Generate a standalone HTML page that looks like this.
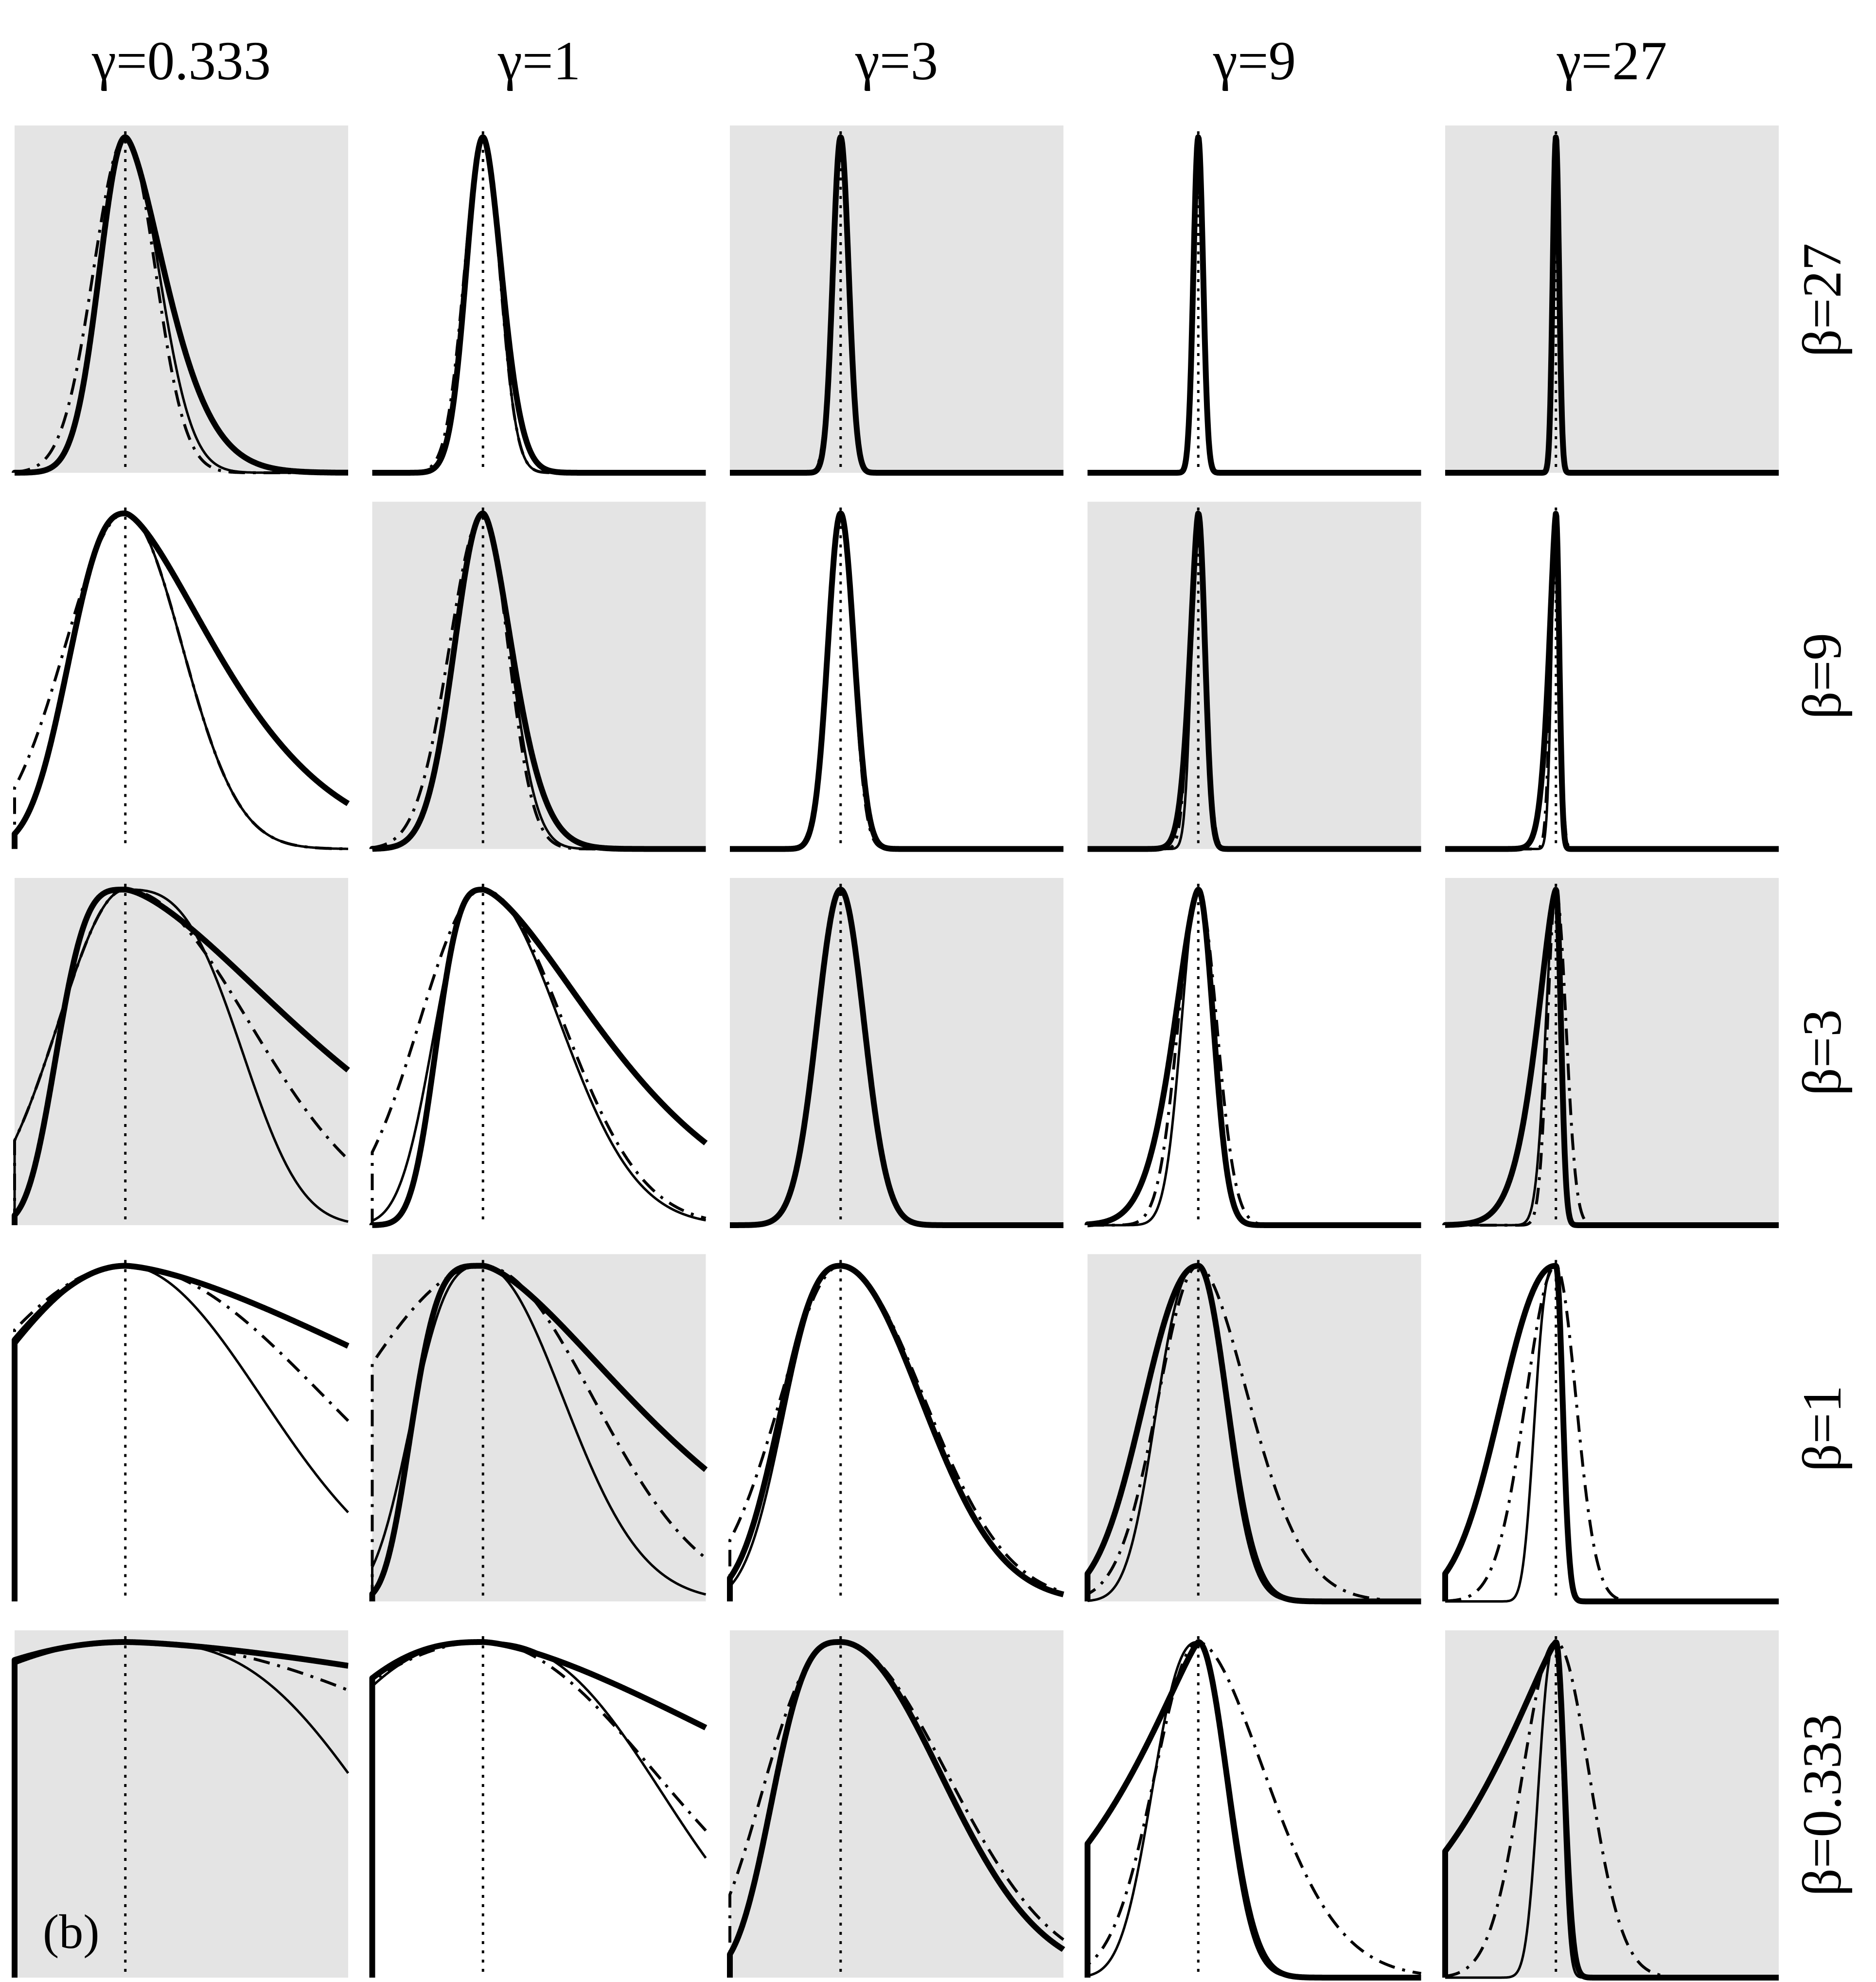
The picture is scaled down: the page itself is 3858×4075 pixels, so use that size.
<!DOCTYPE html>
<html><head><meta charset="utf-8"><style>
html,body{margin:0;padding:0;background:#fff}
svg{display:block}
text{font-family:"Liberation Serif","Times New Roman",serif;fill:#000}
</style></head><body>
<svg id="chart" width="3858" height="4075" viewBox="0 0 3858 4075" xmlns="http://www.w3.org/2000/svg" font-family="Liberation Serif, serif">
<g id="panels"></g>
<g id="labels" font-family="Liberation Serif, serif">
<text x="373" y="163" font-size="113" text-anchor="middle">γ=0.333</text>
<text x="1109" y="163" font-size="113" text-anchor="middle">γ=1</text>
<text x="1844" y="163" font-size="113" text-anchor="middle">γ=3</text>
<text x="2580" y="163" font-size="113" text-anchor="middle">γ=9</text>
<text x="3315" y="163" font-size="113" text-anchor="middle">γ=27</text>
<text transform="translate(3785,617) rotate(-90)" font-size="113" text-anchor="middle">β=27</text>
<text transform="translate(3785,1390) rotate(-90)" font-size="113" text-anchor="middle">β=9</text>
<text transform="translate(3785,2164) rotate(-90)" font-size="113" text-anchor="middle">β=3</text>
<text transform="translate(3785,2937) rotate(-90)" font-size="113" text-anchor="middle">β=1</text>
<text transform="translate(3785,3711) rotate(-90)" font-size="113" text-anchor="middle">β=0.333</text>
<text x="88" y="4005" font-size="100">(b)</text>
</g>
</svg>
<script>
// curve shape parameters per panel (row-major: beta rows 27,9,3,1,0.333; gamma cols 0.333,1,3,9,27)
// each: [left width, left power, right width, right power] in panel-width fractions
const gammas = ["0.333","1","3","9","27"];
const betas = ["27","9","3","1","0.333"];
const thickParams = [
 [.077,2,.115,1.6],[.05,2,.055,1.8],[.023,2,.024,2],[.0145,2,.0145,2],[.0095,2,.0095,2],
 [.16,2.5,.265,1.5],[.085,2,.085,1.7],[.038,2,.04,2],[.024,1.6,.02,2],[.02,1.5,.01,2],
 [.19,3.5,.5,1.5],[.13,3,.335,1.5],[.07,2,.07,2],[.07,1.6,.045,2],[.055,1.5,.015,2],
 [.47,2,1.0,1.5],[.2,4,.44,1.5],[.17,2.5,.24,2],[.16,2.2,.085,2],[.16,2.2,.02,2],
 [1.0,2,2.4,1.5],[.6,2.5,.95,1.5],[.19,3,.3,2],[.2,1.2,.085,2],[.19,1.2,.025,2]
];
const thinParams = [
 [.077,2,.1,2],[.05,2,.05,2],[.023,2,.023,2],[.0145,2,.0145,2],[.0095,2,.0095,2],
 [.16,2.5,.17,2],[.085,2,.08,2],[.038,2,.038,2],[.02,2,.02,2],[.013,2,.01,2],
 [.2,2,.32,3],[.14,2.5,.23,2],[.07,2,.07,2],[.05,2,.045,2],[.03,2,.015,2],
 [.45,2,.41,2],[.2,3,.24,2],[.16,2.5,.24,2],[.12,2.5,.08,2],[.06,3,.018,2],
 [.9,2,.67,3],[.55,2.5,.5,2.5],[.19,3,.3,2],[.13,2.5,.08,2],[.05,2.5,.02,2]
];
const dashParams = [
 [.095,2,.09,2],[.055,2,.05,2],[.025,2,.023,2],[.0145,2,.0145,2],[.0095,2,.0095,2],
 [.18,2,.17,2],[.1,2,.075,2],[.04,2,.037,2],[.025,2,.022,2],[.015,2,.012,2],
 [.2,2,.37,2],[.19,2,.24,2],[.072,2,.07,2],[.06,2,.055,2],[.025,2,.03,2],
 [.51,2,.6,2],[.4,2,.33,2],[.18,2,.25,2],[.12,2,.15,1.8],[.09,2,.06,2],
 [1,2,1.2,2],[.67,2,.52,2],[.22,2.5,.32,2],[.13,2,.2,1.8],[.1,2,.1,2]
];
const modeFrac = 0.332;

const NS = "http://www.w3.org/2000/svg";
const g = document.getElementById("panels");
const colLeft = c => 30 + c * 735.5;
const rowTop = r => 258 + r * 773.5;
const PW = 686, PH = 714, PEAK = 690;
function shape(x, p){
  const d = x - modeFrac;
  const s = d < 0 ? p[0] : p[2], pw = d < 0 ? p[1] : p[3];
  return Math.exp(-0.5 * Math.pow(Math.abs(d) / s, pw));
}
function xS(c, f){ return colLeft(c) + f * PW; }
function yS(r, v){ return rowTop(r) + PH - v * PEAK; }
function pathFor(r, c, p){
  let s = "M" + xS(c,0).toFixed(1) + "," + yS(r,0).toFixed(1);
  const N = 600;
  for (let i = 0; i <= N; i++){
    const f = i / N;
    s += " L" + xS(c,f).toFixed(1) + "," + yS(r, shape(f,p)).toFixed(1);
  }
  return s;
}
for (let r = 0; r < 5; r++){
  for (let c = 0; c < 5; c++){
    const k = r * 5 + c;
    const pg = document.createElementNS(NS, "g");
    
    
    if ((r + c) % 2 === 0){
      const bg = document.createElementNS(NS, "rect");
      
      
      bg.setAttribute("x", colLeft(c)); bg.setAttribute("y", rowTop(r));
      bg.setAttribute("width", PW); bg.setAttribute("height", PH);
      bg.setAttribute("fill", "#e4e4e4");
      pg.appendChild(bg);
    }
    const vl = document.createElementNS(NS, "line");
    
    
    vl.setAttribute("x1", xS(c, modeFrac)); vl.setAttribute("x2", xS(c, modeFrac));
    vl.setAttribute("y1", rowTop(r) + 12); vl.setAttribute("y2", rowTop(r) + PH);
    vl.setAttribute("stroke", "#000"); vl.setAttribute("stroke-width", "5");
    vl.setAttribute("stroke-dasharray", "6 13");
    pg.appendChild(vl);
    const dd = document.createElementNS(NS, "path");
    
    
    dd.setAttribute("d", pathFor(r, c, dashParams[k]));
    dd.setAttribute("fill", "none"); dd.setAttribute("stroke", "#000");
    dd.setAttribute("stroke-width", "6"); dd.setAttribute("stroke-dasharray", "34 16 6 16");
    pg.appendChild(dd);
    const tn = document.createElementNS(NS, "path");
    
    
    tn.setAttribute("d", pathFor(r, c, thinParams[k]));
    tn.setAttribute("fill", "none"); tn.setAttribute("stroke", "#000");
    tn.setAttribute("stroke-width", "5");
    pg.appendChild(tn);
    const tk = document.createElementNS(NS, "path");
    
    
    tk.setAttribute("d", pathFor(r, c, thickParams[k]));
    tk.setAttribute("fill", "none"); tk.setAttribute("stroke", "#000");
    tk.setAttribute("stroke-width", "12"); tk.setAttribute("stroke-linejoin", "round");
    pg.appendChild(tk);
    g.appendChild(pg);
  }
}
</script>
</body></html>
